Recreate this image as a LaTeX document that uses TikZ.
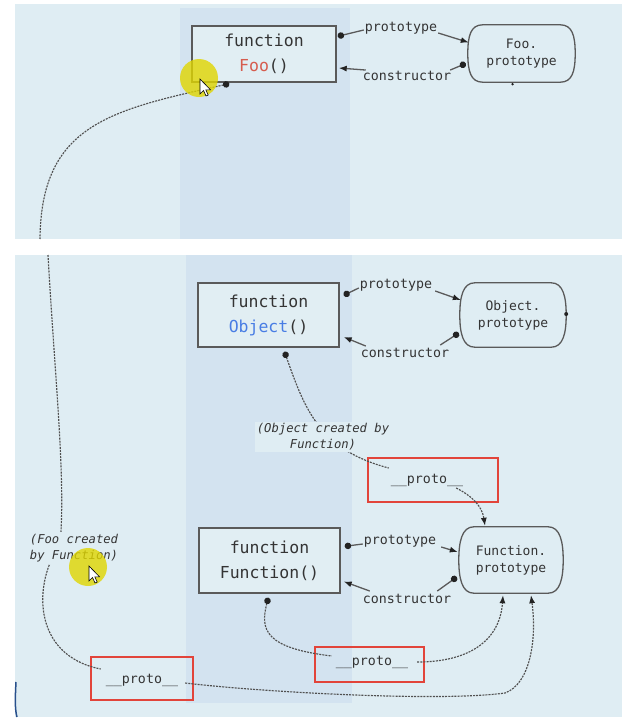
\documentclass[tikz,border=0pt]{standalone}
\usepackage{fontspec}
\setmonofont{DejaVu Sans Mono}
\usetikzlibrary{arrows.meta,calc}
\definecolor{bgc}{RGB}{223,237,243}
\definecolor{bandc}{RGB}{211,227,240}
\definecolor{boxin}{RGB}{225,238,243}
\definecolor{linec}{RGB}{90,90,90}
\definecolor{tipc}{RGB}{35,35,35}
\definecolor{txtc}{RGB}{52,52,52}
\definecolor{fooc}{RGB}{214,92,78}
\definecolor{objc}{RGB}{72,125,228}
\definecolor{redc}{RGB}{226,68,58}
\definecolor{dashc}{RGB}{80,80,80}
\definecolor{yelc}{RGB}{224,214,0}
\definecolor{edgec}{RGB}{40,80,140}
\newcommand{\pillshape}[1]{%
  \draw[draw=linec,line width=1.3pt]
    ($(#1.north west)+(15,0)$) -- ($(#1.north east)+(-15,0)$)
    .. controls ($(#1.north east)+(-3,0)$) and ($(#1.east)+(0,-18)$) .. (#1.east)
    .. controls ($(#1.east)+(0,18)$) and ($(#1.south east)+(-3,0)$) .. ($(#1.south east)+(-15,0)$)
    -- ($(#1.south west)+(15,0)$)
    .. controls ($(#1.south west)+(3,0)$) and ($(#1.west)+(0,18)$) .. (#1.west)
    .. controls ($(#1.west)+(0,-18)$) and ($(#1.north west)+(3,0)$) .. cycle;}
\newcommand{\mycursor}[1]{%
  \filldraw[fill=white,draw=black,line width=0.6pt,shift={#1}]
    (0,0) -- (0,15) -- (3.5,11.5) -- (6,17) -- (8.2,16) -- (5.8,10.8) -- (10.5,10.8) -- cycle;}
\begin{document}
\begin{tikzpicture}[x=1pt,y=-1pt,
  fnbox/.style={draw=linec,line width=1.4pt,fill=boxin,align=center,
    font=\ttfamily\fontsize{16.5}{25}\selectfont,text=txtc,inner sep=0pt},
  protonode/.style={align=center,font=\ttfamily\fontsize{13}{17}\selectfont,
    text=txtc,inner sep=0pt},
  lbl/.style={font=\ttfamily\fontsize{13.3}{16}\selectfont,text=txtc,inner sep=1pt},
  redbox/.style={draw=redc,line width=2.4pt,inner sep=0pt},
  ptxt/.style={font=\ttfamily\fontsize{13.3}{16}\selectfont,text=txtc,inner sep=1pt},
  note/.style={font=\ttfamily\itshape\fontsize{12.2}{16}\selectfont,text=txtc,
    fill=bgc,align=center,inner sep=2pt},
  conn/.style={draw=linec,line width=1.3pt},
  dotline/.style={conn,{Circle[length=6.5pt,color=tipc]}-},
  arr/.style={conn,-{Latex[length=8pt,width=6pt,color=tipc]}},
  dconn/.style={draw=dashc,line width=1.15pt,dash pattern=on 2pt off 1.1pt},
  ddot/.style={dconn,{Circle[length=6.5pt,color=tipc]}-},
  darr/.style={dconn,-{Latex[length=8pt,width=6pt,color=tipc]}}
]
\useasboundingbox (0,0) rectangle (639,726);
\fill[white] (0,0) rectangle (639,726);
% panels
\fill[bgc] (15,4) rectangle (622,239);
\fill[bandc] (180,8) rectangle (350,239);
\fill[bgc] (15,255) rectangle (622,717);
\fill[bandc] (186,255) rectangle (352,703);
\draw[edgec,line width=1.5pt] (16,682) .. controls (15,700) and (15,710) .. (17,717);

% ---------- top panel ----------
\node[fnbox,minimum width=144pt,minimum height=56pt] (foo) at (264,54)
  {function\\\textcolor{fooc}{Foo}()};
\node[protonode,minimum width=107pt,minimum height=57pt] (fooproto) at (521.5,53.5)
  {Foo.\\prototype};
\pillshape{fooproto}
\fill[tipc] ($(fooproto.south)+(-9,2)$) circle (1.3);
\node[lbl] (fpl) at (401,28) {prototype};
\node[lbl] (fcl) at (407,76) {constructor};
\draw[dotline] ($(foo.north east)+(1,11)$) -- ($(fpl.west)+(0,2)$);
\draw[arr] ($(fpl.east)+(0,5)$) -- ($(fooproto.west)+(1,-11)$);
\draw[dotline] ($(fooproto.west)+(-2,10)$) -- ($(fcl.north east)+(-2,0)$);
\draw[arr] ($(fcl.north west)+(4,0)$) -- ($(foo.east)+(2,14)$);

% ---------- bottom panel ----------
\node[fnbox,minimum width=141pt,minimum height=64pt] (obj) at (268.5,315)
  {function\\\textcolor{objc}{Object}()};
\node[protonode,minimum width=106pt,minimum height=64pt] (objproto) at (513,315)
  {Object.\\prototype};
\pillshape{objproto}
\fill[tipc] ($(objproto.east)+(0,-1)$) circle (2);
\node[lbl] (opl) at (396,285) {prototype};
\node[lbl] (ocl) at (405,353) {constructor};
\draw[dotline] ($(obj.north east)+(4,13)$) -- ($(opl.west)+(0,3)$);
\draw[arr] ($(opl.east)+(2,6)$) -- ($(objproto.west)+(1,-15)$);
\draw[dotline] ($(objproto.west)+(-1,18)$) -- ($(ocl.north east)+(-10,-2)$);
\draw[arr] ($(ocl.north west)+(6,-1)$) -- ($(obj.east)+(4,22)$);

\node[fnbox,minimum width=141pt,minimum height=65pt] (fun) at (269.5,560.5)
  {function\\Function()};
\node[protonode,minimum width=104pt,minimum height=66pt] (funproto) at (511,560)
  {Function.\\prototype};
\pillshape{funproto}
\node[lbl] (fpl2) at (400,541) {prototype};
\node[lbl] (fcl2) at (407,599) {constructor};
\draw[dotline] ($(fun.north east)+(4,19)$) -- ($(fpl2.west)+(0,3)$);
\draw[arr] ($(fpl2.east)+(4,6)$) -- ($(funproto.west)+(-1,-8)$);
\draw[dotline] ($(funproto.west)+(-2,17)$) -- ($(fcl2.north east)+(-15,-2)$);
\draw[arr] ($(fcl2.north west)+(8,-2)$) -- ($(fun.east)+(3,21)$);

% red proto boxes
\node[redbox,minimum width=130pt,minimum height=44pt] (p1) at (433,480) {};
\node[ptxt] (p1t) at (427,480) {\_\_proto\_\_};
\node[redbox,minimum width=102pt,minimum height=43pt] (p2) at (142,678.5) {};
\node[ptxt] (p2t) at (142,680) {\_\_proto\_\_};
\node[redbox,minimum width=109pt,minimum height=35pt] (p3) at (369.5,664.5) {};
\node[ptxt] (p3t) at (372,662) {\_\_proto\_\_};

% coordinates where the line crosses the gap between the two screenshots
\coordinate (gapA) at (40,239);
\coordinate (gapB) at (48,255);

% dashed __proto__ links
\draw[ddot] ($(foo.south west)+(38,1)$) .. controls (110,110) and (41,125) .. (gapA);
\draw[dconn] (gapB) .. controls (55,380) and (66,480) .. (60,545)
  .. controls (34,580) and (30,655) .. ($(p2t.west)+(-4,-11)$);
\draw[darr] ($(p2t.east)+(6,3)$) .. controls (260,692) and (440,702) .. (505,693)
  .. controls (530,684) and (537,640) .. ($(funproto.south)+(20,2)$);
\draw[ddot] ($(fun.south west)+(70,4)$) .. controls (260,630) and (265,648) .. ($(p3t.west)+(-3,-6)$);
\draw[darr] ($(p3t.east)+(8,0)$) .. controls (470,662) and (500,640) .. ($(funproto.south)+(-8,2)$);
\draw[ddot] ($(obj.south)+(16,4)$) .. controls (305,410) and (320,450) .. ($(p1t.west)+(-1,-12)$);
\draw[darr] ($(p1t.east)+(-8,8)$) .. controls (472,496) and (482,506) .. ($(funproto.north)+(-26,-1)$);

% notes
\node[note] (objnote) at (323,437) {(Object created by\\Function)};
\node[note] (foonote) at (74,548) {(Foo created\\by Function)};

% screen-recording cursor highlights
\fill[yelc,opacity=0.8] (199,78) circle (19);
\mycursor{(200,79)}
\fill[yelc,opacity=0.8] (88,567) circle (19);
\mycursor{(89,566)}
\end{tikzpicture}
\end{document}
